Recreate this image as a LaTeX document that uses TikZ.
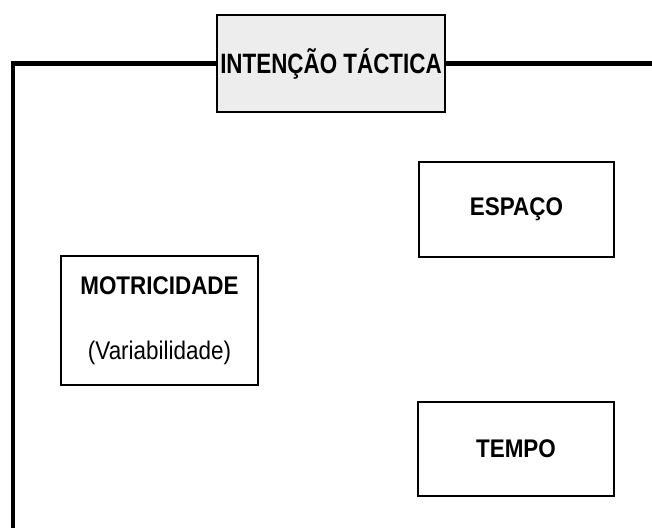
\documentclass[tikz,border=0pt]{standalone}
\usepackage{fontspec}
\newfontfamily\boxfont[FakeStretch=0.88]{Liberation Sans}
\newfontfamily\titlefont[FakeStretch=0.8]{Liberation Sans}
\usepackage{tikz}

\begin{document}
\begin{tikzpicture}[x=1pt,y=-1pt,
    box/.style={draw, line width=1.6pt, rectangle, inner sep=0pt,
        font=\boxfont\fontsize{25.5}{29}\selectfont},
    titlebox/.style={box, line width=2.6pt, fill=black!7,
        minimum width=228, minimum height=97,
        font=\titlefont\fontsize{28}{32}\selectfont\bfseries}]
        \useasboundingbox (0,0) rectangle (652,528);

        \coordinate (Corner) at (13,63.5);
        \coordinate (Bottom) at (13,528);
        \coordinate (RightEnd) at (652,63.5);

        % Title
        \node[titlebox] (Intencao) at (331,63.5) {INTENÇÃO TÁCTICA};

        % Frame lines
        \draw[line width=4.5pt] (Intencao.west) -- (Corner) -- (Bottom);
        \draw[line width=4.5pt] (Intencao.east) -- (RightEnd);

        % Boxes
        \node[box, minimum width=197, minimum height=129, align=center] (Motricidade) at (159.5,320.5)
            {\bfseries MOTRICIDADE\\[36pt](Variabilidade)};
        \node[box, minimum width=195, minimum height=95] (Espaco) at (516.5,209.5) {\bfseries ESPAÇO};
        \node[box, minimum width=196, minimum height=94] (Tempo) at (516,449) {\bfseries TEMPO};
    \end{tikzpicture}
\end{document}
